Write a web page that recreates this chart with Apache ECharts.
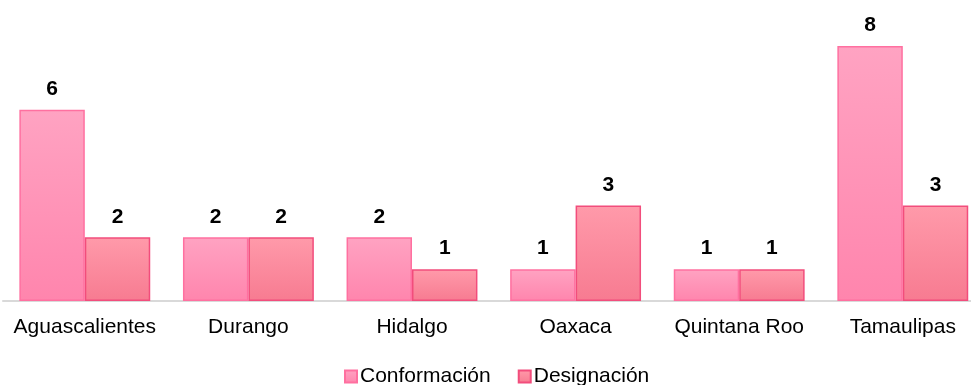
<!DOCTYPE html>
<html><head><meta charset="utf-8">
<script src="https://cdn.jsdelivr.net/npm/echarts@6/dist/echarts.min.js"></script>
<style>html,body{margin:0;padding:0;background:#fff;overflow:hidden}#c{width:971px;height:385px}</style>
</head><body><div id="c"></div>
<script>
const categories = ["Aguascalientes","Durango","Hidalgo","Oaxaca","Quintana Roo","Tamaulipas"];
const conformacion = [6,2,2,1,1,8];
const designacion = [2,2,1,3,1,3];
const seriesNames = ["Conformación","Designación"];

const FONT = 'Liberation Sans, Arial, sans-serif';
const chart = echarts.init(document.getElementById('c'));
const grad = (a,b)=>new echarts.graphic.LinearGradient(0,0,0,1,[{offset:0,color:a},{offset:1,color:b}]);
const lbl = {show:true,position:'top',distance:10,color:'#000',fontWeight:'bold',fontSize:21,fontFamily:FONT};
chart.setOption({
  animation:false,
  grid:{left:3,width:981.6,top:46,height:255,containLabel:false,outerBoundsMode:'none'},
  legend:{top:366,left:344,padding:0,itemWidth:12,itemHeight:12,itemGap:27,icon:'rect',
    textStyle:{fontSize:21,color:'#000',fontFamily:FONT,padding:[0,0,0,-2]},
    data:seriesNames},
  xAxis:{type:'category',data:categories,
    axisLine:{lineStyle:{color:'#d9d9d9',width:2}},axisTick:{show:false},
    axisLabel:{fontSize:21,color:'#000',margin:16,fontFamily:FONT,interval:0}},
  yAxis:{type:'value',min:0,max:8,show:false,splitLine:{show:false}},
  series:[
    {name:seriesNames[0],type:'bar',data:conformacion,barGap:'0%',barCategoryGap:'20%',
      itemStyle:{color:grad('#ffa3c2','#ff85ad'),borderColor:'#ff70a0',borderWidth:1.5},label:lbl},
    {name:seriesNames[1],type:'bar',data:designacion,
      itemStyle:{color:grad('#ff9aaa','#f77b91'),borderColor:'#f24d7c',borderWidth:1.5},label:lbl}
  ]
});
</script></body></html>
